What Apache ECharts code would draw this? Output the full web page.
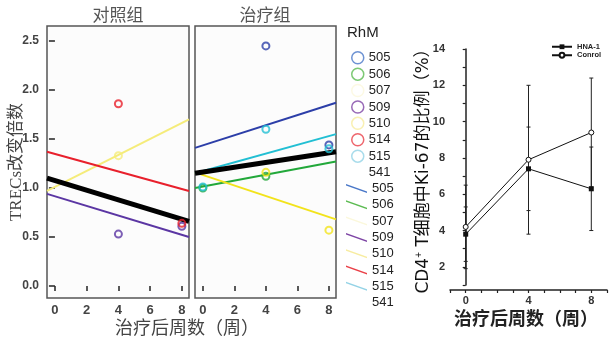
<!DOCTYPE html>
<html>
<head>
<meta charset="utf-8">
<script src="https://cdn.jsdelivr.net/npm/echarts@6/dist/echarts.min.js"></script>
<style>
  html, body { margin: 0; padding: 0; background: #fff; }
  #main { width: 610px; height: 338px; }
</style>
</head>
<body>
<div id="main"></div>
<script>
// 周数
const weeks = [0, 4, 8];
const rhmIds = ['505', '506', '507', '509', '510', '514', '515', '541'];

// TRECs 改变倍数 (null = 被线挡住看不到)
const ctrl509 = [null, 0.53, 0.61];
const ctrl510 = [null, 1.33, null];
const ctrl514 = [null, 1.86, 0.64];
const trt505 = [null, 2.45, 1.44];
const trt506 = [1.00, 1.12, null];
const trt507 = [null, 1.16, 0.57];
const trt515 = [1.01, 1.60, 1.40];

// 拟合线: 面板左边缘 / 右边缘的值
const fitX = [-0.5, 8.45];
const ctrlFit509 = [0.94, 0.50];
const ctrlFit510 = [0.97, 1.70];
const ctrlFit514 = [1.37, 0.97];
const ctrlFitAll = [1.10, 0.66];
const trtFit505 = [1.41, 1.87];
const trtFit506 = [1.00, 1.27];
const trtFit507 = [1.16, 0.68];
const trtFit515 = [1.15, 1.55];
const trtFitAll = [1.15, 1.37];

const weekTicks = [0, 2, 4, 6, 8];
const foldTicks = [0, 0.5, 1, 1.5, 2, 2.5];

// 右图: CD4+ T细胞中Ki-67的比例
const hnaMean = [3.8, 7.4, 6.3];
const hnaErr = [1.5, 2.3, 2.3];
const conMean = [4.2, 7.9, 9.4];
const conErr = [2.3, 4.1, 3.0];

const lineColor = {
  '505': '#2c3ea8', '506': '#22a83a', '507': '#f2e31c', '509': '#5b36a3',
  '510': '#f5ec7a', '514': '#e8202c', '515': '#22bfd3', '541': 'rgba(0,0,0,0)'
};
const legendColor = {
  '505': '#4a78c8', '506': '#5cbb52', '507': '#fbf8dc', '509': '#7e45a5',
  '510': '#f7eca0', '514': '#ea4048', '515': '#94d3e6', '541': 'rgba(0,0,0,0)'
};

const serif = "'Liberation Serif', 'Noto Sans CJK SC', serif";
const sans = "'Liberation Sans', Arial, 'Noto Sans CJK SC', sans-serif";

function pts(vals) {
  return weeks.map((w, i) => vals[i] == null ? null : [w, vals[i]]).filter(Boolean);
}
function fit(v) {
  return [[fitX[0], v[0]], [fitX[1], v[1]]];
}
function fitLine(name, grid, vals, color, width) {
  return {
    name: name, type: 'line', xAxisIndex: grid, yAxisIndex: grid,
    data: fit(vals), symbol: 'none', silent: true, z: 2,
    lineStyle: { color: color, width: width }, itemStyle: { color: color }
  };
}
function dots(name, grid, vals, color) {
  return {
    name: name, type: 'scatter', xAxisIndex: grid, yAxisIndex: grid,
    data: pts(vals), symbol: 'circle', symbolSize: 7, z: 4,
    itemStyle: { color: 'rgba(255,255,255,0)', borderColor: color, borderWidth: 2 }
  };
}
function errBars(mean, err) {
  return weeks.map((w, i) => [w, mean[i] - err[i], mean[i] + err[i]]);
}
function renderErr(params, api) {
  const x = api.value(0);
  const top = api.coord([x, api.value(2)]);
  const bot = api.coord([x, api.value(1)]);
  const st = { stroke: '#222', lineWidth: 1 };
  return {
    type: 'group', children: [
      { type: 'line', shape: { x1: top[0], y1: top[1], x2: bot[0], y2: bot[1] }, style: st },
      { type: 'line', shape: { x1: top[0] - 2, y1: top[1], x2: top[0] + 2, y2: top[1] }, style: st },
      { type: 'line', shape: { x1: bot[0] - 2, y1: bot[1], x2: bot[0] + 2, y2: bot[1] }, style: st }
    ]
  };
}

function panelX(idx) {
  return {
    type: 'value', gridIndex: idx, min: fitX[0], max: fitX[1],
    axisLine: { show: false }, splitLine: { show: false },
    axisTick: { show: true, customValues: weekTicks, length: 5, lineStyle: { color: '#222', width: 1.5 } },
    axisLabel: { customValues: weekTicks, margin: 6, fontSize: 13, fontWeight: 'bold', color: '#444', fontFamily: sans }
  };
}
function panelY(idx, show) {
  return {
    type: 'value', gridIndex: idx, min: -0.122, max: 2.653,
    axisLine: { show: false }, splitLine: { show: false },
    axisTick: { show: show, customValues: foldTicks, length: 6, lineStyle: { color: '#222', width: 1.5 } },
    axisLabel: {
      show: show, customValues: foldTicks, margin: 8, fontSize: 12, fontWeight: 'bold',
      color: '#444', fontFamily: sans, formatter: v => v.toFixed(1)
    }
  };
}

const series = [
  fitLine('l509', 0, ctrlFit509, lineColor['509'], 2),
  fitLine('l510', 0, ctrlFit510, lineColor['510'], 2),
  fitLine('l514', 0, ctrlFit514, lineColor['514'], 2),
  fitLine('all', 0, ctrlFitAll, '#000', 5),
  dots('p509', 0, ctrl509, lineColor['509']),
  dots('p510', 0, ctrl510, lineColor['510']),
  dots('p514', 0, ctrl514, lineColor['514']),

  fitLine('l505', 1, trtFit505, lineColor['505'], 2),
  fitLine('l506', 1, trtFit506, lineColor['506'], 2),
  fitLine('l507', 1, trtFit507, lineColor['507'], 2),
  fitLine('l515', 1, trtFit515, lineColor['515'], 2),
  fitLine('all', 1, trtFitAll, '#000', 5),
  dots('p505', 1, trt505, lineColor['505']),
  dots('p506', 1, trt506, lineColor['506']),
  dots('p507', 1, trt507, lineColor['507']),
  dots('p515', 1, trt515, lineColor['515']),
  dots('p541', 1, [null, null, null], lineColor['541']),
  fitLine('l541', 1, [null, null], lineColor['541'], 2),

  {
    type: 'custom', xAxisIndex: 2, yAxisIndex: 2, renderItem: renderErr,
    data: errBars(conMean, conErr), encode: { x: 0, y: [1, 2] }, z: 2, silent: true
  },
  {
    type: 'custom', xAxisIndex: 2, yAxisIndex: 2, renderItem: renderErr,
    data: errBars(hnaMean, hnaErr), encode: { x: 0, y: [1, 2] }, z: 2, silent: true
  },
  {
    name: 'HNA-1', type: 'line', xAxisIndex: 2, yAxisIndex: 2, z: 4,
    data: weeks.map((w, i) => [w, hnaMean[i]]), symbol: 'rect', symbolSize: 5,
    lineStyle: { color: '#111', width: 1 }, itemStyle: { color: '#111' }
  },
  {
    name: 'Conrol', type: 'line', xAxisIndex: 2, yAxisIndex: 2, z: 4,
    data: weeks.map((w, i) => [w, conMean[i]]), symbol: 'circle', symbolSize: 5, showAllSymbol: true,
    lineStyle: { color: '#111', width: 1 }, itemStyle: { color: '#fff', borderColor: '#111', borderWidth: 1 }
  }
];

const legendText = { fontSize: 13, color: '#222', fontFamily: sans };

const option = {
  animation: false,
  backgroundColor: '#fff',
  grid: [
    { left: 47, top: 26, width: 142, height: 272, show: true, borderColor: '#555', borderWidth: 1.5, backgroundColor: '#fcfcfc' },
    { left: 195, top: 26, width: 141, height: 272, show: true, borderColor: '#555', borderWidth: 1.5, backgroundColor: '#fcfcfc' },
    { left: 450, top: 49, width: 160, height: 236 }
  ],
  xAxis: [
    panelX(0),
    panelX(1),
    {
      type: 'value', gridIndex: 2, min: -1, max: 9, interval: 1, offset: 5,
      splitLine: { show: false },
      axisLine: { lineStyle: { color: '#222', width: 1.5 } },
      axisTick: { length: 3, lineStyle: { color: '#222', width: 1.2 } },
      axisLabel: {
        fontSize: 11, fontWeight: 'bold', color: '#333', fontFamily: sans, margin: 5,
        formatter: v => (v === 0 || v === 4 || v === 8) ? String(v) : ''
      }
    }
  ],
  yAxis: [
    Object.assign(panelY(0, true), {
      name: 'TRECs改变倍数', nameLocation: 'middle', nameGap: 22, nameRotate: 90, nameMoveOverlap: false,
      nameTextStyle: { fontFamily: serif, fontSize: 17, color: '#444' }
    }),
    panelY(1, false),
    {
      type: 'value', gridIndex: 2, min: 1, max: 14, interval: 1,
      splitLine: { show: false },
      axisLine: { lineStyle: { color: '#222', width: 1.5 } },
      axisTick: { length: 3, lineStyle: { color: '#222', width: 1.2 } },
      axisLabel: {
        fontSize: 11, fontWeight: 'bold', color: '#333', fontFamily: sans, margin: 5,
        formatter: v => v % 2 === 0 ? String(v) : ''
      },
      name: '{a|CD4}{s|+}{a| T细胞中Ki-67的比例（%）}',
      nameLocation: 'middle', nameGap: 17, nameRotate: 90, nameMoveOverlap: false,
      nameTextStyle: {
        rich: {
          a: { fontSize: 17, color: '#111', fontFamily: "'DejaVu Sans', 'Noto Sans CJK SC', sans-serif" },
          s: { fontSize: 10, color: '#111', fontFamily: sans, verticalAlign: 'top', padding: [0, 0, 9, 0] }
        }
      }
    }
  ],
  legend: [
    {
      orient: 'vertical', left: 346, top: 46, itemWidth: 12, itemHeight: 12, itemGap: 2.9,
      selectedMode: false, textStyle: legendText, formatter: n => n.slice(1),
      data: rhmIds.map(id => ({
        name: 'p' + id, icon: 'circle',
        itemStyle: { color: 'rgba(0,0,0,0)', borderColor: legendColor[id], borderWidth: 1.5 }
      }))
    },
    {
      orient: 'vertical', left: 341, top: 177, itemWidth: 21, itemHeight: 9, itemGap: 3.3,
      selectedMode: false, textStyle: legendText, formatter: n => n.slice(1),
      data: rhmIds.map(id => ({
        name: 'l' + id, icon: 'path://M0,0L21,7.5L21,9L0,1.5Z',
        itemStyle: { color: legendColor[id], borderWidth: 0 }
      }))
    },
    {
      orient: 'vertical', left: 546, top: 38, itemWidth: 20, itemHeight: 6, itemGap: 1,
      selectedMode: false, data: ['HNA-1', 'Conrol'],
      textStyle: { fontSize: 7.5, fontWeight: 'bold', color: '#222', fontFamily: sans }
    }
  ],
  graphic: [
    { type: 'text', x: 118, y: 17, style: { text: '对照组', fontFamily: serif, fontSize: 17, fill: '#555', textAlign: 'center', textVerticalAlign: 'middle' } },
    { type: 'text', x: 265, y: 17, style: { text: '治疗组', fontFamily: serif, fontSize: 17, fill: '#555', textAlign: 'center', textVerticalAlign: 'middle' } },
    { type: 'text', x: 347, y: 33, style: { text: 'RhM', fontFamily: sans, fontSize: 15, fill: '#222', textAlign: 'left', textVerticalAlign: 'middle' } },
    { type: 'text', x: 187, y: 329, style: { text: '治疗后周数（周）', fontFamily: serif, fontSize: 18, fill: '#444', textAlign: 'center', textVerticalAlign: 'middle' } },
    { type: 'text', x: 526, y: 320, style: { text: '治疗后周数（周）', fontFamily: sans, fontSize: 18, fontWeight: 'bold', fill: '#222', textAlign: 'center', textVerticalAlign: 'middle' } }
  ],
  series: series
};

const chart = echarts.init(document.getElementById('main'));
chart.setOption(option);
</script>
</body>
</html>
